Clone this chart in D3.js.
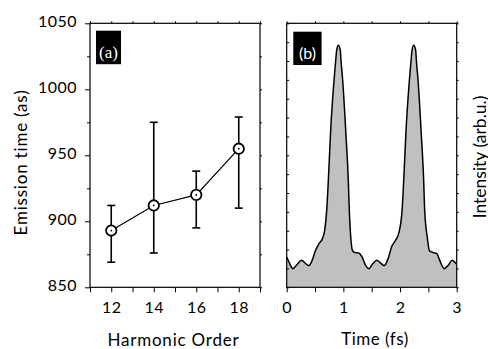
<!DOCTYPE html>
<html><head><meta charset="utf-8">
<script src="https://cdn.jsdelivr.net/npm/d3@7"></script>
<style>
html,body{margin:0;padding:0;background:#fff;}
svg{display:block;font-family:Lato, "Noto Sans", sans-serif;}
</style></head>
<body>
<svg id="chart" width="488" height="349"></svg>
<script>
// ---- Panel (a) data ----
const harmonicOrders = [12, 14, 16, 18];
const emissionTime = [893, 912, 920, 955];
const errLow = [869, 876, 895, 910];
const errHigh = [912, 975, 938, 979];
const harmonicTicks = [12, 14, 16, 18];
const emissionTicks = [850, 900, 950, 1000, 1050];

// ---- Panel (b) data ----
const timeFs = [0.00,0.04,0.11,0.18,0.26,0.33,0.39,0.45,0.51,0.57,0.63,0.67,0.706,0.735,0.776,0.835,0.865,0.882,0.911,
  0.946,0.958,0.988,1.041,1.087,1.105,1.13,1.16,1.20,1.27,1.33,1.39,1.45,1.52,1.59,1.65,1.72,1.79,1.85,1.92,1.98,
  2.036,2.065,2.106,2.165,2.195,2.212,2.241,2.276,2.288,2.318,2.371,2.417,2.435,2.48,2.52,2.59,2.65,2.70,2.78,2.85,2.92,2.99,3.00];
const intensity = [0.161,0.134,0.099,0.120,0.143,0.127,0.115,0.143,0.196,0.232,0.258,0.302,0.408,0.567,0.833,1.098,1.204,1.257,1.283,
  1.257,1.204,1.098,0.833,0.567,0.408,0.267,0.196,0.184,0.182,0.161,0.117,0.099,0.125,0.143,0.131,0.115,0.152,0.214,0.249,0.290,
  0.408,0.567,0.833,1.098,1.204,1.257,1.283,1.257,1.204,1.098,0.833,0.567,0.408,0.267,0.193,0.184,0.179,0.143,0.099,0.117,0.143,0.126,0.124];
const timeTicks = [0, 1, 2, 3];

const svg = d3.select("#chart");
const T = 23.3, B = 287.3;

// ================= Panel (a) =================
const xa = d3.scaleLinear().domain([11, 19]).range([90, 260]);
const ya = d3.scaleLinear().domain([850, 1050]).range([B, T]);
const ga = svg.append("g");

function styleAxis(g){
  g.select(".domain").remove();
  g.selectAll("line").attr("stroke","#000").attr("stroke-width",1);
  g.selectAll("text").attr("fill","#000").style("font-size","16px").style("letter-spacing","0.5px")
    .style("font-family","Lato, sans-serif");
}

ga.append("g").attr("transform",`translate(0,${B})`)
  .call(d3.axisBottom(xa).tickValues(d3.range(11,20)).tickSize(5).tickPadding(9)
    .tickFormat(d => harmonicTicks.includes(d) ? d : ""))
  .call(styleAxis);
ga.append("g").attr("transform",`translate(0,${T})`)
  .call(d3.axisTop(xa).tickValues(d3.range(11,20)).tickSize(2).tickFormat(""))
  .call(styleAxis);
ga.append("g").attr("transform",`translate(90,0)`)
  .call(d3.axisLeft(ya).tickValues(emissionTicks).tickSize(5).tickPadding(8).tickFormat(d3.format("d")))
  .call(styleAxis)
  .call(g => g.selectAll("text").attr("dy","0.2em"));
ga.append("g").attr("transform",`translate(90,0)`)
  .call(d3.axisLeft(ya).tickValues([875,925,975,1025]).tickSize(3).tickFormat(""))
  .call(styleAxis);
ga.append("g").attr("transform",`translate(260,0)`)
  .call(d3.axisRight(ya).tickValues(d3.range(850,1051,25)).tickSize(2).tickFormat(""))
  .call(styleAxis);
ga.append("rect").attr("x",xa(11)).attr("y",T).attr("width",xa(19)-xa(11)).attr("height",B-T)
  .attr("fill","none").attr("stroke","#000").attr("stroke-width",1.2);

const pts = harmonicOrders.map((h,i)=>({h, v:emissionTime[i], lo:errLow[i], hi:errHigh[i]}));
const eb = ga.append("g").attr("stroke","#000").attr("stroke-width",1.6);
pts.forEach(p=>{
  eb.append("line").attr("x1",xa(p.h)).attr("x2",xa(p.h)).attr("y1",ya(p.lo)).attr("y2",ya(p.hi));
  eb.append("line").attr("x1",xa(p.h)-4).attr("x2",xa(p.h)+4).attr("y1",ya(p.lo)).attr("y2",ya(p.lo));
  eb.append("line").attr("x1",xa(p.h)-4).attr("x2",xa(p.h)+4).attr("y1",ya(p.hi)).attr("y2",ya(p.hi));
});
ga.append("path").datum(pts)
  .attr("d", d3.line().x(d=>xa(d.h)).y(d=>ya(d.v)))
  .attr("fill","none").attr("stroke","#000").attr("stroke-width",1.2);
ga.selectAll("circle.m").data(pts).join("circle").attr("class","m")
  .attr("cx",d=>xa(d.h)).attr("cy",d=>ya(d.v)).attr("r",5.2)
  .attr("fill","#fff").attr("stroke","#000").attr("stroke-width",1.8);
ga.selectAll("circle.d").data(pts).join("circle").attr("class","d")
  .attr("cx",d=>xa(d.h)).attr("cy",d=>ya(d.v)).attr("r",0.9).attr("fill","#000");

ga.append("rect").attr("x",96).attr("y",30.7).attr("width",25).attr("height",33.5).attr("fill","#000");
ga.append("text").attr("x",108.5).attr("y",58).attr("text-anchor","middle")
  .attr("fill","#fff").style("font-family","'Liberation Serif', serif").style("font-size","17px").text("(a)");

ga.append("text").attr("transform","translate(27,162.5) rotate(-90)").attr("text-anchor","middle")
  .style("font-size","17px").style("letter-spacing","0.8px").text("Emission time (as)");
ga.append("text").attr("x",173.5).attr("y",345.5).attr("text-anchor","middle")
  .style("font-size","17px").style("letter-spacing","0.8px").text("Harmonic Order");

// ================= Panel (b) =================
const xb = d3.scaleLinear().domain([0, 3]).range([286.7, 456.7]);
const yb = d3.scaleLinear().domain([0, 1.4]).range([B, T]);
const gb = svg.append("g");

const series = timeFs.map((t,i)=>({t, v:intensity[i]}));
gb.append("path").datum(series)
  .attr("d", d3.area().x(d=>xb(d.t)).y0(yb(0)).y1(d=>yb(d.v)).curve(d3.curveMonotoneX))
  .attr("fill","#c0c0c0");
gb.append("path").datum(series)
  .attr("d", d3.line().x(d=>xb(d.t)).y(d=>yb(d.v)).curve(d3.curveMonotoneX))
  .attr("fill","none").attr("stroke","#000").attr("stroke-width",1.5);

gb.append("g").attr("transform",`translate(0,${B})`)
  .call(d3.axisBottom(xb).tickValues(d3.range(0,3.01,0.5)).tickSize(5).tickPadding(9)
    .tickFormat(d => timeTicks.includes(d) ? d : ""))
  .call(styleAxis);
gb.append("g").attr("transform",`translate(0,${T})`)
  .call(d3.axisTop(xb).tickValues(d3.range(0,3.01,0.5)).tickSize(2).tickFormat(""))
  .call(styleAxis);
gb.append("g").attr("transform",`translate(${xb(0)},0)`)
  .call(d3.axisRight(yb).tickValues(d3.range(0,1.41,0.1)).tickSize(2.5).tickFormat(""))
  .call(styleAxis);
gb.append("g").attr("transform",`translate(${xb(3)},0)`)
  .call(d3.axisRight(yb).tickValues(d3.range(0,1.41,0.1)).tickSize(2).tickFormat(""))
  .call(styleAxis);
gb.append("rect").attr("x",xb(0)).attr("y",T).attr("width",xb(3)-xb(0)).attr("height",B-T)
  .attr("fill","none").attr("stroke","#000").attr("stroke-width",1.2);

gb.append("rect").attr("x",293.3).attr("y",31.7).attr("width",28.3).attr("height",33.3).attr("fill","#000");
gb.append("text").attr("x",307.5).attr("y",58.5).attr("text-anchor","middle")
  .attr("fill","#fff").style("font-size","16px").text("(b)");

gb.append("text").attr("x",375).attr("y",345).attr("text-anchor","middle")
  .style("font-size","17px").style("letter-spacing","0.5px").text("Time (fs)");
gb.append("text").attr("transform","translate(485.5,157) rotate(-90)").attr("text-anchor","middle")
  .style("font-size","17.5px").text("Intensity (arb.u.)");
</script>
</body></html>
